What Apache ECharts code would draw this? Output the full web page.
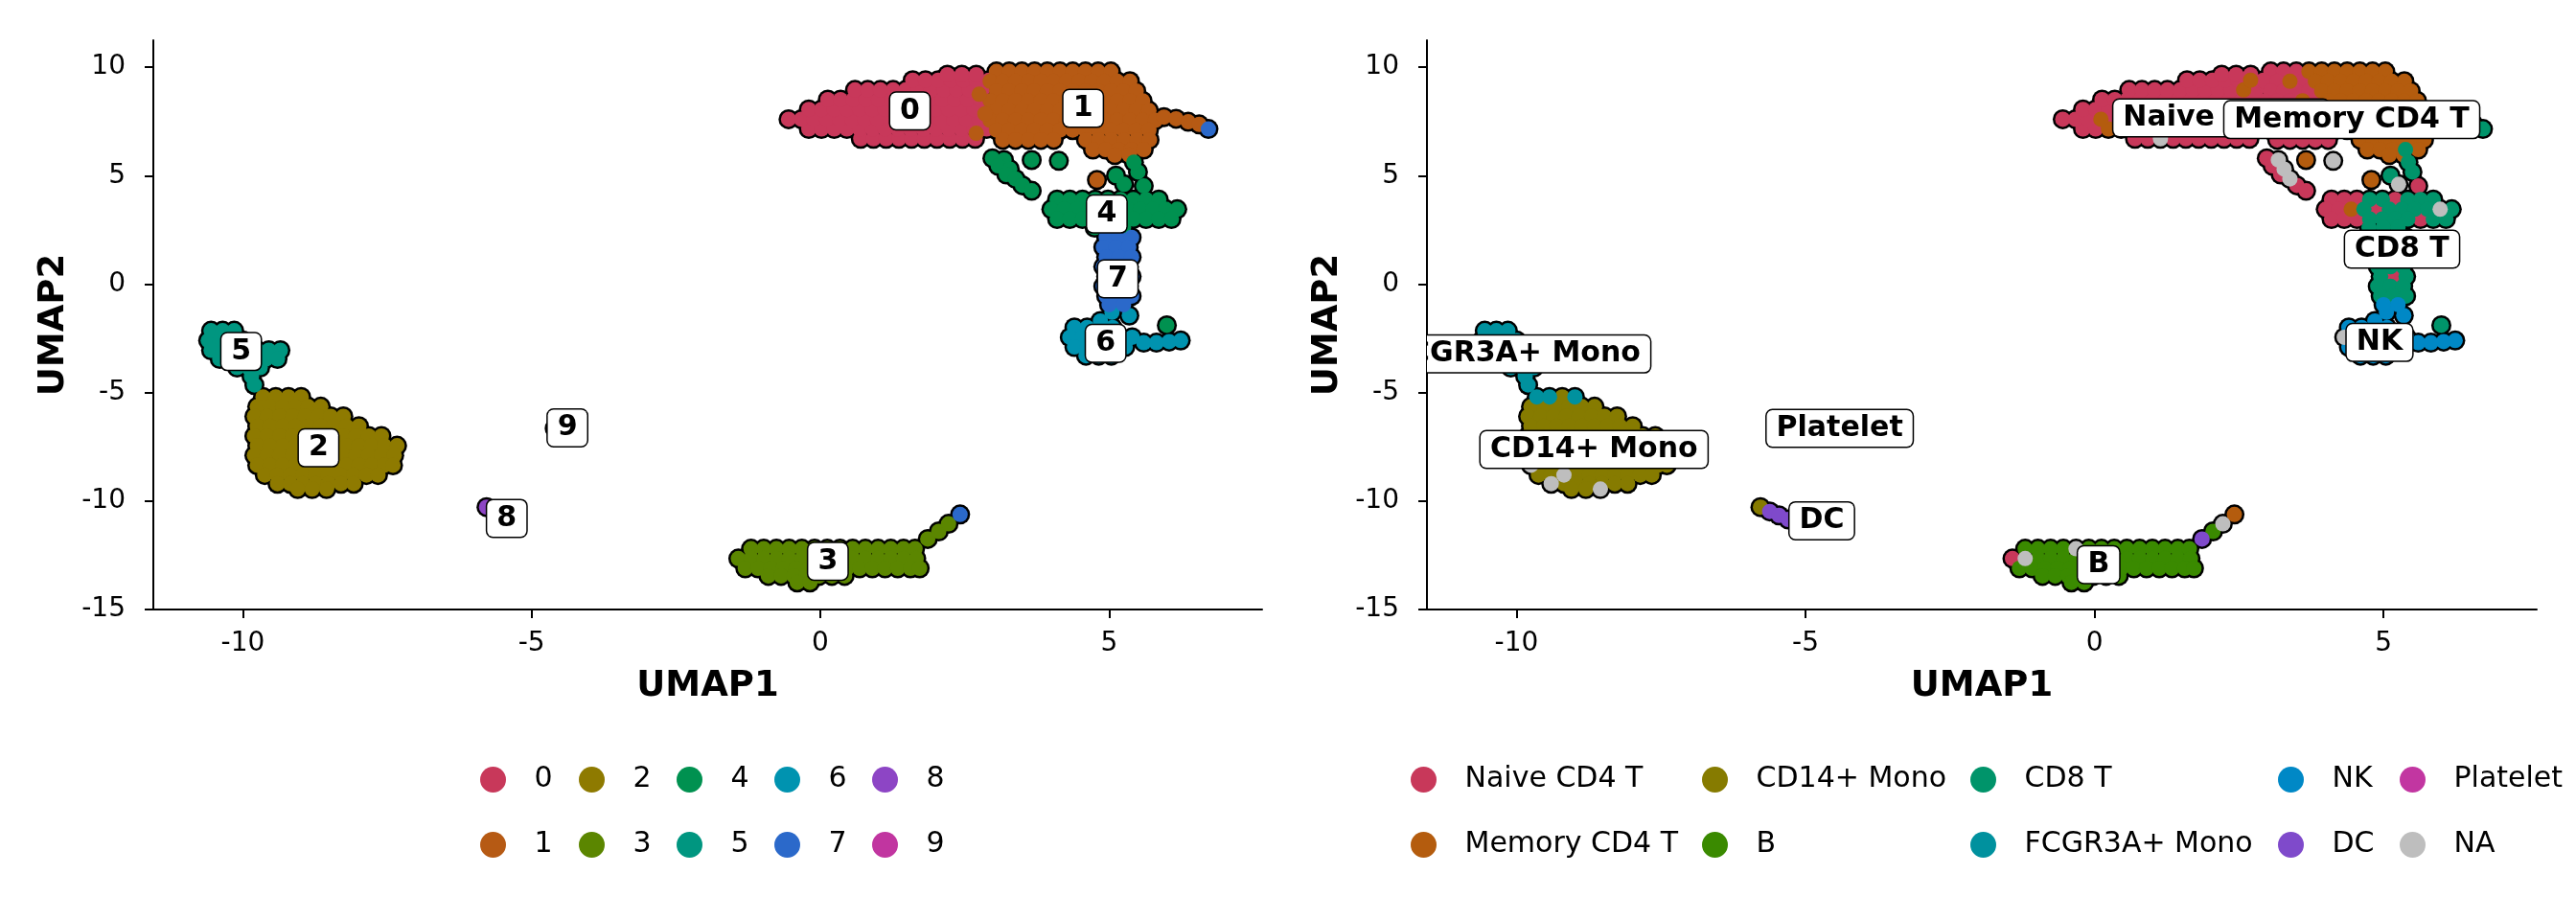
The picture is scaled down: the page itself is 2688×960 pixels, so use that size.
<!DOCTYPE html>
<html><head><meta charset="utf-8">
<script src="https://cdn.jsdelivr.net/npm/echarts@6/dist/echarts.min.js"></script>
<style>html,body{margin:0;padding:0;background:#fff}#c{width:2688px;height:960px}</style>
</head><body><div id="c"></div>
<script>
const clusterNames = ['0','1','2','3','4','5','6','7','8','9'];
const cellTypes = ['Naive CD4 T','Memory CD4 T','CD14+ Mono','B','CD8 T','FCGR3A+ Mono','NK','DC','Platelet','NA'];
const clusterColors = ['#C8385A','#B65A14','#8E7A00','#5B8600','#009150','#009680','#0093B0','#2B69CA','#8D45C5','#C135A0'];
const typeColors = ['#C8385A','#B45C0E','#867B00','#3A8A00','#00946A','#00919E','#0088C6','#7F4ACB','#C236A1','#BEBEBE'];
const xTicks = [-10,-5,0,5];
const yTicks = [-15,-10,-5,0,5,10];

// cells: [UMAP1, UMAP2, cell type index into cellTypes]
const cluster0 = [
[0.7,6.7,0],[0.92,6.7,0],[1.14,6.7,9],[1.36,6.7,0],[1.58,6.7,0],[1.8,6.7,0],[2.02,6.7,0],[2.24,6.7,0],[2.46,6.7,0],[2.68,6.7,0],
[-0.2,7.15,0],[0.02,7.15,0],[0.24,7.15,1],[0.46,7.15,0],[0.68,7.15,0],[0.9,7.15,0],[1.12,7.15,0],[1.34,7.15,0],[1.56,7.15,0],[1.78,7.15,0],[2.0,7.15,0],[2.22,7.15,0],[2.44,7.15,0],[2.66,7.15,0],[2.88,7.15,0],
[-0.55,7.6,0],[-0.33,7.6,0],[-0.11,7.6,0],[0.11,7.6,1],[0.33,7.6,0],[0.55,7.6,0],[0.77,7.6,0],[0.99,7.6,0],[1.21,7.6,0],[1.43,7.6,0],[1.65,7.6,0],[1.87,7.6,0],[2.09,7.6,0],[2.31,7.6,0],[2.53,7.6,0],[2.75,7.6,0],
[-0.2,8.05,0],[0.02,8.05,0],[0.24,8.05,0],[0.46,8.05,0],[0.68,8.05,0],[0.9,8.05,0],[1.12,8.05,0],[1.34,8.05,0],[1.56,8.05,0],[1.78,8.05,0],[2.0,8.05,0],[2.22,8.05,0],[2.44,8.05,0],[2.66,8.05,0],[2.88,8.05,0],
[0.13,8.5,0],[0.35,8.5,0],[0.57,8.5,0],[0.79,8.5,0],[1.01,8.5,0],[1.23,8.5,0],[1.45,8.5,0],[1.67,8.5,0],[1.89,8.5,0],[2.11,8.5,0],[2.33,8.5,0],[2.55,8.5,0],[2.77,8.5,0],
[0.6,8.95,0],[0.82,8.95,0],[1.04,8.95,0],[1.26,8.95,0],[1.48,8.95,0],[1.7,8.95,0],[1.92,8.95,0],[2.14,8.95,0],[2.36,8.95,0],[2.58,8.95,1],[2.8,8.95,0],
[1.6,9.4,0],[1.82,9.4,0],[2.04,9.4,0],[2.26,9.4,0],[2.48,9.4,0],[2.7,9.4,1],[2.92,9.4,0],
[2.2,9.65,0],[2.45,9.65,0],[2.7,9.65,0],
[3.1,8.3,0],[3.2,7.35,0],[3.05,9.15,0],[3.3,6.85,0]
];
const cluster1 = [
[3.05,9.8,0],[3.27,9.8,0],[3.49,9.8,0],[3.71,9.8,1],[3.93,9.8,1],[4.15,9.8,1],[4.37,9.8,1],[4.59,9.8,1],[4.81,9.8,1],[5.03,9.8,1],
[2.94,9.35,0],[3.16,9.35,0],[3.38,9.35,1],[3.6,9.35,0],[3.82,9.35,1],[4.04,9.35,1],[4.26,9.35,1],[4.48,9.35,1],[4.7,9.35,1],[4.92,9.35,1],[5.14,9.35,1],[5.36,9.35,1],
[3.05,8.9,0],[3.27,8.9,0],[3.49,8.9,0],[3.71,8.9,0],[3.93,8.9,1],[4.15,8.9,1],[4.37,8.9,1],[4.59,8.9,1],[4.81,8.9,1],[5.03,8.9,1],[5.25,8.9,1],[5.47,8.9,1],
[2.94,8.45,0],[3.16,8.45,0],[3.38,8.45,0],[3.6,8.45,1],[3.82,8.45,0],[4.04,8.45,1],[4.26,8.45,1],[4.48,8.45,1],[4.7,8.45,1],[4.92,8.45,1],[5.14,8.45,1],[5.36,8.45,1],[5.58,8.45,1],
[3.05,8.0,0],[3.27,8.0,0],[3.49,8.0,0],[3.71,8.0,0],[3.93,8.0,1],[4.15,8.0,1],[4.37,8.0,1],[4.59,8.0,1],[4.81,8.0,1],[5.03,8.0,1],[5.25,8.0,1],[5.47,8.0,1],[5.69,8.0,1],
[2.94,7.55,0],[3.16,7.55,0],[3.38,7.55,0],[3.6,7.55,0],[3.82,7.55,0],[4.04,7.55,1],[4.26,7.55,1],[4.48,7.55,1],[4.7,7.55,1],[4.92,7.55,1],[5.14,7.55,1],[5.36,7.55,1],[5.58,7.55,1],[5.8,7.55,1],
[5.95,7.7,1],[6.16,7.62,1],[6.37,7.48,1],[6.56,7.36,1],
[3.05,7.1,0],[3.27,7.1,0],[3.49,7.1,0],[3.71,7.1,0],[3.93,7.1,0],[4.15,7.1,1],[4.37,7.1,1],[4.59,7.1,1],[4.81,7.1,1],[5.03,7.1,1],[5.25,7.1,1],[5.47,7.1,1],[5.69,7.1,1],
[3.16,6.65,0],[3.38,6.65,0],[3.6,6.65,0],[3.82,6.65,0],[4.04,6.65,0],[4.6,6.65,1],[4.82,6.65,1],[5.04,6.65,1],[5.26,6.65,1],[5.48,6.65,1],[5.7,6.65,1],
[4.72,6.2,1],[4.94,6.2,1],[5.16,6.2,1],[5.38,6.2,4],[5.6,6.2,1],
[5.1,5.95,1],[5.35,5.95,1],
[4.79,4.8,1],
[2.75,8.75,0],[2.85,7.85,0],[2.7,6.95,0]
];
const cluster2 = [
[-9.65,-5.2,5],[-9.43,-5.2,5],[-9.21,-5.2,2],[-8.99,-5.2,5],
[-9.75,-5.65,2],[-9.53,-5.65,2],[-9.31,-5.65,2],[-9.09,-5.65,2],[-8.87,-5.65,2],[-8.65,-5.65,2],
[-9.8,-6.1,2],[-9.58,-6.1,2],[-9.36,-6.1,2],[-9.14,-6.1,2],[-8.92,-6.1,2],[-8.7,-6.1,2],[-8.48,-6.1,2],[-8.26,-6.1,2],
[-9.75,-6.55,2],[-9.53,-6.55,2],[-9.31,-6.55,2],[-9.09,-6.55,2],[-8.87,-6.55,2],[-8.65,-6.55,2],[-8.43,-6.55,2],[-8.21,-6.55,2],[-7.99,-6.55,2],
[-9.8,-7.0,2],[-9.58,-7.0,2],[-9.36,-7.0,2],[-9.14,-7.0,2],[-8.92,-7.0,2],[-8.7,-7.0,2],[-8.48,-7.0,2],[-8.26,-7.0,2],[-8.04,-7.0,2],[-7.82,-7.0,2],[-7.6,-7.0,2],
[-9.75,-7.45,2],[-9.53,-7.45,2],[-9.31,-7.45,2],[-9.09,-7.45,2],[-8.87,-7.45,2],[-8.65,-7.45,2],[-8.43,-7.45,2],[-8.21,-7.45,2],[-7.99,-7.45,2],[-7.77,-7.45,2],[-7.55,-7.45,2],[-7.33,-7.45,2],
[-9.8,-7.9,2],[-9.58,-7.9,2],[-9.36,-7.9,2],[-9.14,-7.9,2],[-8.92,-7.9,2],[-8.7,-7.9,2],[-8.48,-7.9,2],[-8.26,-7.9,2],[-8.04,-7.9,2],[-7.82,-7.9,2],[-7.6,-7.9,2],[-7.38,-7.9,2],
[-9.75,-8.35,9],[-9.53,-8.35,2],[-9.31,-8.35,2],[-9.09,-8.35,2],[-8.87,-8.35,2],[-8.65,-8.35,2],[-8.43,-8.35,2],[-8.21,-8.35,2],[-7.99,-8.35,2],[-7.77,-8.35,2],[-7.55,-8.35,2],[-7.4,-8.35,2],
[-9.62,-8.8,2],[-9.4,-8.8,2],[-9.18,-8.8,9],[-8.96,-8.8,2],[-8.74,-8.8,2],[-8.52,-8.8,2],[-8.3,-8.8,2],[-8.08,-8.8,2],[-7.86,-8.8,2],[-7.66,-8.8,2],
[-9.4,-9.2,9],[-9.18,-9.2,2],[-8.96,-9.2,2],[-8.74,-9.2,2],[-8.52,-9.2,2],[-8.3,-9.2,2],[-8.08,-9.2,2],
[-9.05,-9.45,2],[-8.8,-9.45,2],[-8.55,-9.45,9]
];
const cluster3 = [
[-1.2,-12.2,3],[-0.98,-12.2,3],[-0.76,-12.2,3],[-0.54,-12.2,3],[-0.32,-12.2,9],[-0.1,-12.2,3],[0.12,-12.2,3],[0.34,-12.2,3],[0.56,-12.2,3],[0.78,-12.2,3],[1.0,-12.2,3],[1.22,-12.2,3],[1.44,-12.2,3],[1.64,-12.2,3],
[-1.42,-12.65,0],[-1.2,-12.65,9],[-0.98,-12.65,3],[-0.76,-12.65,3],[-0.54,-12.65,3],[-0.32,-12.65,3],[-0.1,-12.65,3],[0.12,-12.65,3],[0.34,-12.65,3],[0.56,-12.65,3],[0.78,-12.65,3],[1.0,-12.65,3],[1.22,-12.65,3],[1.44,-12.65,3],[1.66,-12.65,3],
[-1.3,-13.1,3],[-1.08,-13.1,3],[-0.86,-13.1,3],[-0.64,-13.1,3],[-0.42,-13.1,3],[-0.2,-13.1,3],[0.02,-13.1,3],[0.24,-13.1,3],[0.46,-13.1,3],[0.68,-13.1,3],[0.9,-13.1,3],[1.12,-13.1,3],[1.34,-13.1,3],[1.56,-13.1,3],[1.72,-13.1,3],
[-0.9,-13.45,3],[-0.68,-13.45,3],[-0.46,-13.45,3],[-0.24,-13.45,3],[-0.02,-13.45,3],[0.2,-13.45,3],[0.42,-13.45,3],
[-0.4,-13.75,3],[-0.18,-13.75,3],
[1.86,-11.75,7],[2.05,-11.4,3],[2.22,-11.05,9]
];
const cluster4 = [
[2.98,5.8,0],[3.18,5.72,9],[3.08,5.45,0],[3.28,5.3,9],[3.22,5.05,0],[3.38,4.85,9],[3.5,4.55,0],[3.66,4.3,0],
[3.66,5.72,1],[4.13,5.68,9],
[5.12,5.0,4],[5.26,4.6,9],[5.5,5.17,4],[5.6,4.52,0],[5.43,5.62,4],
[4.1,3.9,0],[4.32,3.9,0],[4.54,3.9,0],[4.76,3.9,4],[4.98,3.9,4],[5.2,3.9,0],[5.42,3.9,4],[5.64,3.9,4],[5.86,3.9,4],
[4.0,3.45,0],[4.22,3.45,0],[4.44,3.45,1],[4.66,3.45,4],[4.88,3.45,0],[5.1,3.45,4],[5.32,3.45,4],[5.54,3.45,4],[5.76,3.45,4],[5.98,3.45,9],[6.18,3.45,4],
[4.1,3.0,0],[4.32,3.0,0],[4.54,3.0,0],[4.76,3.0,4],[4.98,3.0,4],[5.2,3.0,4],[5.42,3.0,4],[5.64,3.0,0],[5.86,3.0,4],[6.08,3.0,4],
[4.75,2.6,4],[5.0,2.6,4],[5.25,2.6,4],
[6.0,-1.9,4]
];
const cluster5 = [
[-10.55,-2.15,5],[-10.35,-2.15,5],[-10.15,-2.15,5],
[-10.6,-2.6,5],[-10.4,-2.6,5],[-10.2,-2.6,5],[-10.0,-2.6,5],
[-10.55,-3.05,5],[-10.35,-3.05,5],[-10.15,-3.05,5],[-9.95,-3.05,5],[-9.75,-3.05,5],[-9.55,-3.05,5],[-9.35,-3.05,5],
[-10.4,-3.45,5],[-10.2,-3.45,5],[-10.0,-3.45,5],[-9.8,-3.45,5],[-9.6,-3.45,5],[-9.4,-3.45,5],
[-10.1,-3.85,5],[-9.9,-3.85,5],[-9.7,-3.85,5],
[-9.85,-4.25,5],[-9.8,-4.65,5]
];
const cluster6 = [
[5.05,-1.3,6],[5.35,-1.45,6],[4.85,-1.7,6],
[4.4,-2.0,6],[4.62,-2.0,6],[4.84,-2.0,6],[5.06,-2.0,6],
[4.32,-2.45,9],[4.54,-2.45,6],[4.76,-2.45,6],[4.98,-2.45,6],[5.2,-2.45,6],[5.4,-2.45,6],
[5.6,-2.7,6],[5.82,-2.7,6],[6.04,-2.65,6],[6.24,-2.6,6],
[4.4,-2.9,6],[4.62,-2.9,6],[4.84,-2.9,6],[5.06,-2.9,6],[5.28,-2.9,6],
[4.6,-3.3,6],[4.82,-3.3,6],[5.04,-3.3,6]
];
const cluster7 = [
[4.95,2.15,4],[5.17,2.15,4],[5.39,2.15,4],
[4.9,1.7,4],[5.12,1.7,4],[5.34,1.7,4],
[4.95,1.25,4],[5.17,1.25,4],[5.39,1.25,4],
[4.9,0.8,4],[5.12,0.8,4],[5.34,0.8,4],
[4.95,0.35,4],[5.17,0.35,0],[5.39,0.35,4],
[4.9,-0.1,4],[5.12,-0.1,4],[5.34,-0.1,4],
[4.95,-0.55,4],[5.17,-0.55,4],[5.39,-0.55,4],
[5.0,-0.95,6],[5.25,-0.95,6],
[6.72,7.15,4],[2.42,-10.62,1]
];
const cluster8 = [[-5.78,-10.28,2],[-5.62,-10.48,7],[-5.46,-10.66,7],[-5.3,-10.85,7]];
const cluster9 = [[-4.6,-6.65,8]];

const clusterLabelPos = [[1.55,7.98],[4.55,8.10],[-8.69,-7.55],[0.13,-12.78],[4.96,3.23],[-10.03,-3.11],[4.94,-2.73],[5.15,0.24],[-5.43,-10.80],[-4.38,-6.63]];
const typeLabelPos = [[2.19,7.66],[4.45,7.58],[-8.66,-7.62],[0.07,-12.93],[5.32,1.61],[-10.03,-3.22],[4.93,-2.69],[-4.72,-10.91],[-4.41,-6.65]];

const clusters = [cluster0,cluster1,cluster2,cluster3,cluster4,cluster5,cluster6,cluster7,cluster8,cluster9];
const allPts = [].concat(...clusters);
const FONT = 'DejaVu Sans';

function xAxisCfg(gi){
  return {type:'value', gridIndex:gi, min:-11.55, max:7.65, name:'UMAP1', nameLocation:'middle', nameGap:62,
    nameTextStyle:{fontFamily:FONT, fontWeight:'bold', fontSize:37, color:'#000'},
    axisLine:{show:true, onZero:false, lineStyle:{color:'#000', width:2}},
    axisTick:{show:true, length:9, customValues:xTicks, lineStyle:{color:'#000', width:2}},
    axisLabel:{customValues:xTicks, fontFamily:FONT, fontSize:28, color:'#000', margin:22},
    splitLine:{show:false}};
}
function yAxisCfg(gi){
  return {type:'value', gridIndex:gi, min:-15, max:11.24, name:'UMAP2', nameLocation:'middle', nameGap:85, nameRotate:90,
    nameTextStyle:{fontFamily:FONT, fontWeight:'bold', fontSize:37, color:'#000'},
    axisLine:{show:true, onZero:false, lineStyle:{color:'#000', width:2}},
    axisTick:{show:true, length:9, customValues:yTicks, lineStyle:{color:'#000', width:2}},
    axisLabel:{customValues:yTicks, fontFamily:FONT, fontSize:28, color:'#000', margin:29},
    splitLine:{show:false}};
}
function labelRenderer(names){
  return function(params, api){
    const p = api.coord([api.value(0), api.value(1)]);
    return {type:'text', x:p[0], y:p[1], style:{text:names[params.dataIndex], fontFamily:FONT, fontWeight:'bold', fontSize:30,
      fill:'#000', align:'center', verticalAlign:'middle', backgroundColor:'#fff', borderColor:'#000', borderWidth:1.5,
      borderRadius:6, padding:[4,10]}};
  };
}

const series = [];
series.push({type:'scatter', xAxisIndex:0, yAxisIndex:0, silent:true, symbolSize:21, itemStyle:{color:'#000', opacity:1}, z:1,
  data: allPts.map(p=>[p[0],p[1]])});
clusters.forEach((pts,i)=>series.push({type:'scatter', name:clusterNames[i], xAxisIndex:0, yAxisIndex:0, symbolSize:16, z:2,
  itemStyle:{color:clusterColors[i], opacity:1}, data: pts.map(p=>[p[0],p[1]])}));
series.push({type:'scatter', xAxisIndex:1, yAxisIndex:1, silent:true, symbolSize:21, itemStyle:{color:'#000', opacity:1}, z:1,
  data: allPts.map(p=>[p[0],p[1]])});
cellTypes.forEach((name,t)=>series.push({type:'scatter', name:name, xAxisIndex:1, yAxisIndex:1, symbolSize:16, z:2,
  itemStyle:{color:typeColors[t], opacity:1}, data: allPts.filter(p=>p[2]===t).map(p=>[p[0],p[1]])}));
series.push({type:'custom', xAxisIndex:0, yAxisIndex:0, clip:true, z:10, data:clusterLabelPos, renderItem:labelRenderer(clusterNames)});
series.push({type:'custom', xAxisIndex:1, yAxisIndex:1, clip:true, z:10, data:typeLabelPos, renderItem:labelRenderer(cellTypes)});

const leftCols = [['0','1'],['2','3'],['4','5'],['6','7'],['8','9']];
const rightCols = [['Naive CD4 T','Memory CD4 T'],['CD14+ Mono','B'],['CD8 T','FCGR3A+ Mono'],['NK','DC'],['Platelet','NA']];
const leftX = [501,604,706,808,910];
const rightX = [1472,1776,2056,2377,2504];
function legendCfg(data, x){
  return {orient:'vertical', left:x, top:798.5, padding:0, itemWidth:76, itemHeight:27, itemGap:38, icon:'circle',
    selectedMode:false, data:data, itemStyle:{opacity:1}, textStyle:{fontFamily:FONT, fontSize:30, color:'#000', lineHeight:27}};
}
const legends = leftCols.map((c,i)=>legendCfg(c,leftX[i])).concat(rightCols.map((c,i)=>legendCfg(c,rightX[i])));

const chart = echarts.init(document.getElementById('c'), null, {renderer:'canvas'});
chart.setOption({
  animation:false,
  backgroundColor:'#fff',
  grid:[{left:160, top:42, width:1157, height:594},{left:1489, top:42, width:1158, height:594}],
  xAxis:[xAxisCfg(0), xAxisCfg(1)],
  yAxis:[yAxisCfg(0), yAxisCfg(1)],
  legend:legends,
  series:series
});
</script></body></html>
